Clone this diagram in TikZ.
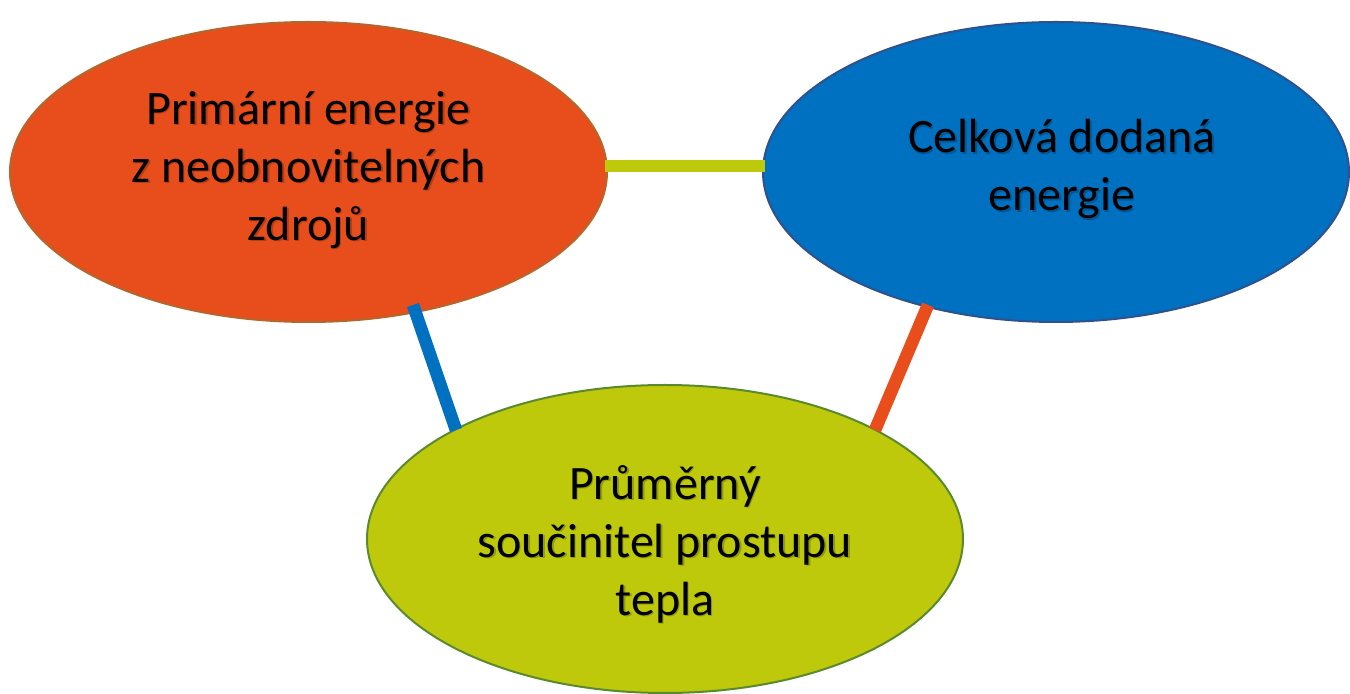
\documentclass[tikz,border=0pt]{standalone}
\usepackage{fontspec}
\setmainfont{Carlito}
\usetikzlibrary{shapes.geometric,calc}

\definecolor{orangeFill}{HTML}{E84E1C}
\definecolor{orangeEdge}{HTML}{B5662C}
\definecolor{blueFill}{HTML}{0070C0}
\definecolor{blueEdge}{HTML}{2F528F}
\definecolor{limeFill}{HTML}{BDC90A}
\definecolor{limeEdge}{HTML}{5B8A2E}

\tikzset{
  bubble/.style={ellipse, inner sep=0pt, line width=1pt,
    minimum width=#1},
  bubble/.default=298pt,
  label text/.style={align=center, font=\fontsize{24}{29}\selectfont,
    text=black},
  label shadow/.style={label text, text=black, opacity=0.22},
  link/.style={line width=6.3pt, line cap=butt},
}

\begin{document}
\begin{tikzpicture}[x=0.5pt, y=-0.5pt]
  \useasboundingbox (0,0) rectangle (1350,694);

  % the three energy bubbles
  \node[bubble=298.5pt, minimum height=150pt, fill=orangeFill, draw=orangeEdge]
    (prim) at (308.5,172) {};
  \node[bubble=293pt, minimum height=150pt, fill=blueFill, draw=blueEdge]
    (total) at (1056,172) {};
  \node[bubble=298pt, minimum height=154pt, fill=limeFill, draw=limeEdge]
    (coef) at (665,539) {};

  % connecting bars
  \draw[link, limeFill] ($(prim.center)+(296.5,-6)$) -- ($(total.center)+(-291,-6)$);
  \draw[link, blueFill] ($(prim.center)+(104.5,133)$) -- ($(coef.center)+(-209,-109)$);
  \draw[link, orangeFill] ($(total.center)+(-128,133)$) -- ($(coef.center)+(210,-109)$);

  % labels with a soft drop shadow
  \node[label shadow] (prim-s) at (310,171.5) {Primární energie\\z neobnovitelných\\zdrojů};
  \node[label text] (prim-t) at (308.5,170) {Primární energie\\z neobnovitelných\\zdrojů};

  \node[label shadow] (total-s) at (1063.5,170.5) {Celková dodaná\\energie};
  \node[label text] (total-t) at (1062,169) {Celková dodaná\\energie};

  \node[label shadow] (coef-s) at (666.5,545.5) {Průměrný\\součinitel prostupu\\tepla};
  \node[label text] (coef-t) at (665,544) {Průměrný\\součinitel prostupu\\tepla};
\end{tikzpicture}
\end{document}
